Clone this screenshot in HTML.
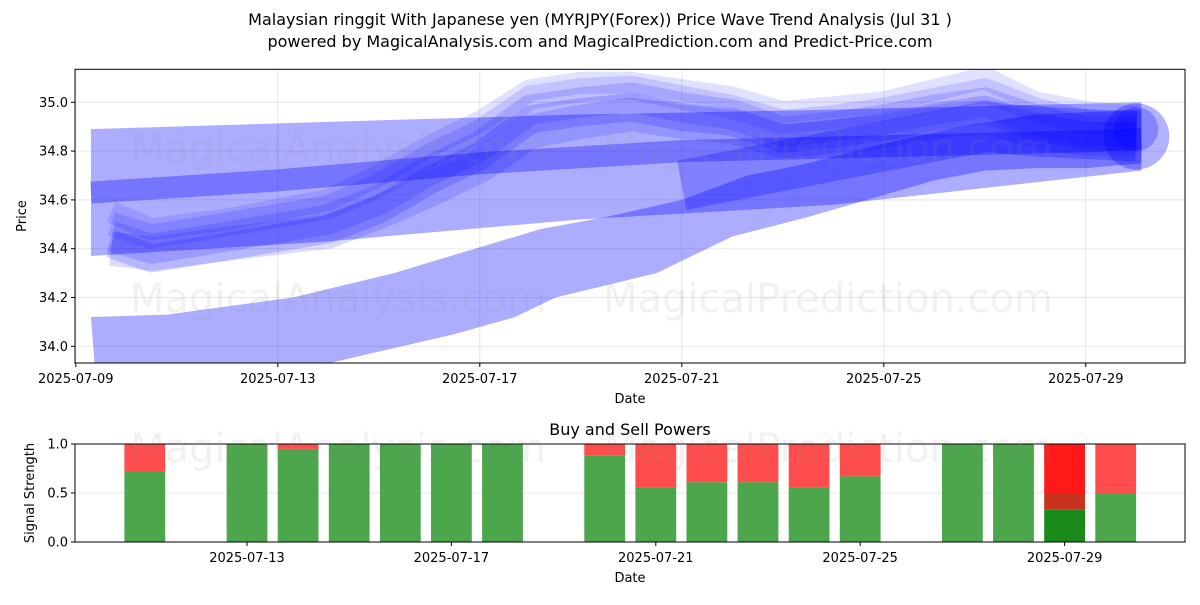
<!DOCTYPE html>
<html><head><meta charset="utf-8"><style>
body{margin:0;background:#fff;font-family:"Liberation Sans","DejaVu Sans",sans-serif}
svg text{font-family:"DejaVu Sans","Liberation Sans",sans-serif}
</style></head><body>
<svg id="c" width="1200" height="600" xmlns="http://www.w3.org/2000/svg">
<rect width="1200" height="600" fill="#fff"/>
<text x="600" y="25" font-size="16" text-anchor="middle">Malaysian ringgit With Japanese yen (MYRJPY(Forex)) Price Wave Trend Analysis (Jul 31 )</text>
<text x="600" y="47" font-size="16" text-anchor="middle">powered by MagicalAnalysis.com and MagicalPrediction.com and Predict-Price.com</text>
<g id="topg"></g><g id="bot"></g>
</svg>
<script>
// ---- data (days since 2025-07-09) ----
const tickDays=[0,4,8,12,16,20];
const tickLabels=["2025-07-09","2025-07-13","2025-07-17","2025-07-21","2025-07-25","2025-07-29"];
const priceTicks=[34.0,34.2,34.4,34.6,34.8,35.0];
const bandAX=[0.3,5,10,15,21.1];
const bandAUp=[34.89,34.92,34.95,34.97,35.0];
const bandALo=[34.37,34.43,34.52,34.58,34.72];
const bandBX=[0.3,1.8,4.3,6.3,7.9,9.2,10.5,12,13.3,14.5,16,17.5,19,21.1];
const bandBUp=[34.12,34.13,34.2,34.3,34.4,34.48,34.53,34.6,34.7,34.75,34.83,34.9,34.95,34.97];
const bandBLoX=[0.4,5,7.5,8.7,9.5,11.5,13,14.5,16,17,18,19,20,21.1];
const bandBLo=[33.85,33.93,34.05,34.12,34.2,34.3,34.45,34.53,34.62,34.68,34.72,34.73,34.73,34.75];
const thinX=[0.3,4,8,12,16,20,21.1];
const thinY=[34.63,34.68,34.75,34.8,34.82,34.84,34.85];
const waveX=[0.7,1.5,3,5,6,7,8,9,10,11,12,13,14,15,16,17,18,19,20,21];
const wave1=[34.45,34.40,34.45,34.52,34.60,34.72,34.82,34.97,35.00,35.02,34.98,34.95,34.88,34.90,34.93,34.97,35.00,34.93,34.88,34.88];
const wave2=[34.50,34.45,34.50,34.57,34.66,34.78,34.88,35.02,35.05,35.06,35.02,34.98,34.92,34.94,34.97,35.01,35.05,34.97,34.92,34.90];
const wave3=[34.42,34.36,34.41,34.48,34.56,34.68,34.78,34.93,34.96,34.98,34.94,34.92,34.85,34.87,34.90,34.94,34.97,34.90,34.86,34.86];
const wave4=[34.55,34.48,34.52,34.60,34.70,34.82,34.92,35.05,35.08,35.08,35.05,35.02,34.96,34.98,35.00,35.05,35.10,35.00,34.96,34.94];
const wave5=[34.40,34.38,34.42,34.47,34.55,34.64,34.74,34.88,34.92,34.95,34.92,34.90,34.84,34.86,34.88,34.92,34.94,34.88,34.85,34.85];
const blobX=[12,14,16,18,19,20,21];
const blobY=[34.66,34.74,34.82,34.90,34.88,34.87,34.86];
// bottom
const barDays=[2,4,5,6,7,8,9,11,12,13,14,15,16,18,19,20,21];
const buyVals=[0.72,1,0.95,1,1,1,1,0.88,0.56,0.61,0.61,0.56,0.67,1,1,0.33,0.5];
const sellMid=[0,0,0,0,0,0,0,0,0,0,0,0,0,0,0,0.5,0];
const botTicks=[4,8,12,16,20];
const botLabels=["2025-07-13","2025-07-17","2025-07-21","2025-07-25","2025-07-29"];
const sigTicks=[0.0,0.5,1.0];

const NS="http://www.w3.org/2000/svg";
function mk(p,t,a){const e=document.createElementNS(NS,t);for(const k in a)e.setAttribute(k,a[k]);p.appendChild(e);return e;}
const L=75,R=1185,T=69.3,B=363;
const X=d=>75.8+d*50.5, Y=v=>346.3-(v-34.0)*244;
const topG=document.getElementById('topg');
const cpEl=mk(topG,'clipPath',{id:'cp'});
mk(cpEl,'rect',{x:L,y:T,width:R-L,height:B-T});
tickDays.forEach((d,i)=>{const g=mk(topG,'line',{x1:X(d),x2:X(d),y1:T,y2:B,stroke:'#b0b0b0','stroke-opacity':0.3});

});
priceTicks.forEach(v=>{const g=mk(topG,'line',{x1:L,x2:R,y1:Y(v),y2:Y(v),stroke:'#b0b0b0','stroke-opacity':0.3});

});
const wm=[["MagicalAnalysis.com",130,162],["MagicalPrediction.com",603,162],["MagicalAnalysis.com",130,312],["MagicalPrediction.com",603,312],["MagicalAnalysis.com",130,462],["MagicalPrediction.com",603,462]];
wm.forEach(w=>{const t=mk(document.getElementById('c'),'text',{x:w[1],y:w[2],'font-size':40,fill:'#888','fill-opacity':0.12});t.textContent=w[0];

});
const pg=mk(topG,'g',{'clip-path':'url(#cp)'});
function poly(xs,up,xl,lo,op,name){let pts=xs.map((d,i)=>X(d)+','+Y(up[i]));for(let i=xl.length-1;i>=0;i--)pts.push(X(xl[i])+','+Y(lo[i]));
const p=mk(pg,'polygon',{points:pts.join(' '),fill:'#0000ff','fill-opacity':op});

}
poly(bandAX,bandAUp,bandAX,bandALo,0.32,'wave-band-wide');
poly(bandBX,bandBUp,bandBLoX,bandBLo,0.32,'wave-band-low');
function line(xs,ys,w,op,name){const p=mk(pg,'polyline',{points:xs.map((d,i)=>X(d)+','+Y(ys[i])).join(' '),fill:'none',stroke:'#0000ff','stroke-opacity':op,'stroke-width':w,'stroke-linejoin':'round','stroke-linecap':'butt'});

}
line(thinX,thinY,22,0.32,'wave-line-thin');
[wave1,wave2,wave3,wave4,wave5].forEach((w,i)=>line(waveX,w,[30,24,28,22,34][i],[0.15,0.13,0.17,0.12,0.14][i],'wave-line-'+(i+1)));
line(blobX,blobY,50,0.25,'wave-blob');
const bl=blobX.length-1;
const c1=mk(pg,'circle',{cx:X(blobX[bl]),cy:Y(blobY[bl]),r:33,fill:'#0000ff','fill-opacity':0.3});


const c2=mk(pg,'circle',{cx:X(blobX[bl]),cy:Y(blobY[bl]+0.03),r:22,fill:'#0000ff','fill-opacity':0.25});


mk(topG,'rect',{x:L,y:T,width:R-L,height:B-T,fill:'none',stroke:'#000','stroke-width':1});
tickDays.forEach((d,i)=>{mk(topG,'line',{x1:X(d),x2:X(d),y1:B,y2:B+4,stroke:'#000'});const t=mk(topG,'text',{x:X(d),y:B+20,'font-size':13,'text-anchor':'middle'});t.textContent=tickLabels[i];

});
priceTicks.forEach(v=>{mk(topG,'line',{x1:L-4,x2:L,y1:Y(v),y2:Y(v),stroke:'#000'});const t=mk(topG,'text',{x:L-7,y:Y(v)+4.5,'font-size':13,'text-anchor':'end'});t.textContent=v.toFixed(1);

});
let t=mk(topG,'text',{x:630,y:403,'font-size':13,'text-anchor':'middle'});t.textContent='Date';


t=mk(topG,'text',{x:26,y:216,'font-size':13,'text-anchor':'middle',transform:'rotate(-90 26 216)'});t.textContent='Price';


// bottom
const bot=document.getElementById('bot');
const BT=444,BB=542, XB=d=>247+(d-4)*51.1, YB=v=>BB-v*(BB-BT);
sigTicks.forEach(v=>{const g=mk(bot,'line',{x1:L,x2:R,y1:YB(v),y2:YB(v),stroke:'#b0b0b0','stroke-opacity':0.3});

});
barDays.forEach((d,i)=>{const x=XB(d)-20.4,w=40.8,b=buyVals[i];const special=sellMid[i]>0;
const g=mk(bot,'rect',{x:x,y:YB(b),width:w,height:YB(0)-YB(b),fill:special?'#1a8a1a':'#4ca64c'});


if(special){const m=mk(bot,'rect',{x:x,y:YB(sellMid[i]),width:w,height:YB(b)-YB(sellMid[i]),fill:'#c8321e'});

}
const top2=special?sellMid[i]:b;
const r=mk(bot,'rect',{x:x,y:YB(1),width:w,height:YB(top2)-YB(1),fill:special?'#ff1a1a':'#ff4c4c'});

});
mk(bot,'rect',{x:L,y:BT,width:R-L,height:BB-BT,fill:'none',stroke:'#000'});
botTicks.forEach((d,i)=>{mk(bot,'line',{x1:XB(d),x2:XB(d),y1:BB,y2:BB+4,stroke:'#000'});const t=mk(bot,'text',{x:XB(d),y:BB+20,'font-size':13,'text-anchor':'middle'});t.textContent=botLabels[i];

});
sigTicks.forEach(v=>{mk(bot,'line',{x1:L-4,x2:L,y1:YB(v),y2:YB(v),stroke:'#000'});const t=mk(bot,'text',{x:L-7,y:YB(v)+4.5,'font-size':13,'text-anchor':'end'});t.textContent=v.toFixed(1);

});
t=mk(bot,'text',{x:630,y:582,'font-size':13,'text-anchor':'middle'});t.textContent='Date';


t=mk(bot,'text',{x:34,y:493,'font-size':13,'text-anchor':'middle',transform:'rotate(-90 34 493)'});t.textContent='Signal Strength';


t=mk(bot,'text',{x:630,y:435,'font-size':16,'text-anchor':'middle'});t.textContent='Buy and Sell Powers';


</script>
</body></html>
